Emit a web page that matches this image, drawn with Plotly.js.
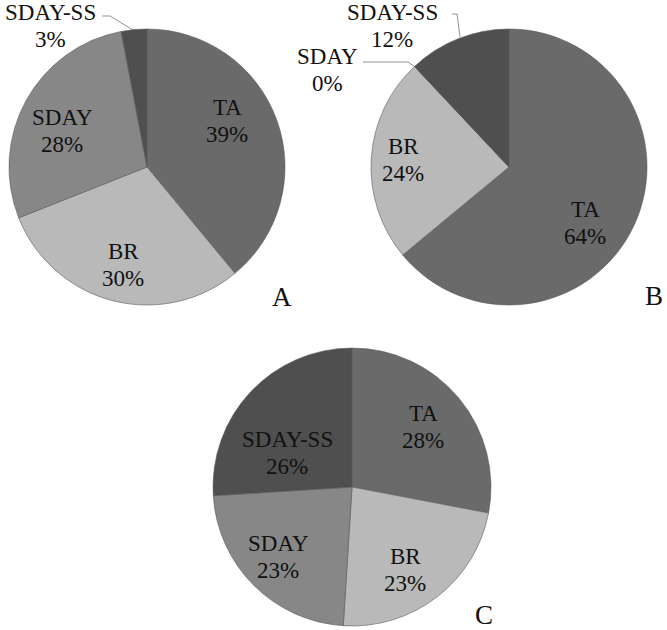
<!DOCTYPE html>
<html>
<head>
<meta charset="utf-8">
<script src="https://cdn.plot.ly/plotly-3.0.1.min.js"></script>
<style>html,body{margin:0;padding:0;background:#fff;}#chart{width:667px;height:630px;}</style>
</head>
<body>
<div id="chart"></div>
<script>
const categories = ["TA", "BR", "SDAY", "SDAY-SS"];
const valuesA = [39, 30, 28, 3];
const valuesB = [64, 24, 0, 12];
const valuesC = [28, 23, 23, 26];
const panelLabels = ["A", "B", "C"];
const sliceColors = ["#6a6a6a", "#b9b9b9", "#878787", "#4f4f4f"];

const FONT = "Liberation Serif";
const W = 667, H = 630;

function dom(cx, cy, r) {
  return {x: [(cx - r) / W, (cx + r) / W], y: [1 - (cy + r) / H, 1 - (cy - r) / H]};
}

function pieTrace(vals, domain) {
  return {
    type: "pie",
    labels: categories,
    values: vals,
    sort: false,
    direction: "clockwise",
    rotation: 0,
    domain: domain,
    marker: {colors: sliceColors, line: {color: "#5a5a5a", width: 0.6}},
    textinfo: "none",
    showlegend: false,
    hoverinfo: "label+percent"
  };
}

const data = [
  pieTrace(valuesA, dom(147, 167, 138)),
  pieTrace(valuesB, dom(509, 167, 138)),
  pieTrace(valuesC, dom(352, 487, 139))
];

// label placement (pixel centres of each two-line data label), per pie, per category
const labelPosA = [[227, 121], [123, 265], [62, 131], [50, 26]];
const labelPosB = [[585, 223], [403, 160], [327, 70], [392, 26]];
const labelPosC = [[423, 427], [405, 570], [278, 557], [287, 453]];
const letterPos = [[282, 297], [654, 296], [484, 615]];

const annotations = [];
function addAnn(text, px, py, size) {
  annotations.push({
    text: text, x: px / W, y: 1 - py / H, xref: "paper", yref: "paper",
    xanchor: "center", yanchor: "middle", showarrow: false,
    font: {family: FONT, size: size, color: "#111"}
  });
}
[[valuesA, labelPosA], [valuesB, labelPosB], [valuesC, labelPosC]].forEach(([vals, lp]) => {
  vals.forEach((v, i) => {
    addAnn(categories[i], lp[i][0], lp[i][1] - 13.5, 23);
    addAnn(v + "%", lp[i][0], lp[i][1] + 13.5, 23);
  });
});
panelLabels.forEach((t, i) => addAnn(t, letterPos[i][0], letterPos[i][1], 27));

const lineStyle = {color: "#777", width: 0.8};
const leaderPaths = [
  "M 102 16 L 110 16 L 133 30",
  "M 452 14 L 457 14 L 460 37",
  "M 363 62 L 408 62 L 415 67"
];
const shapes = leaderPaths.map(path => {
  const p = path.replace(/(\d+(?:\.\d+)?) (\d+(?:\.\d+)?)/g, (m, x, y) => (x / W) + " " + (1 - y / H));
  return {type: "path", path: p, xref: "paper", yref: "paper", line: lineStyle};
});

const layout = {
  width: W, height: H,
  margin: {l: 0, r: 0, t: 0, b: 0},
  paper_bgcolor: "#fff",
  plot_bgcolor: "#fff",
  annotations: annotations,
  shapes: shapes,
  font: {family: FONT}
};

Plotly.newPlot("chart", data, layout, {displayModeBar: false, staticPlot: true});
</script>
</body>
</html>
